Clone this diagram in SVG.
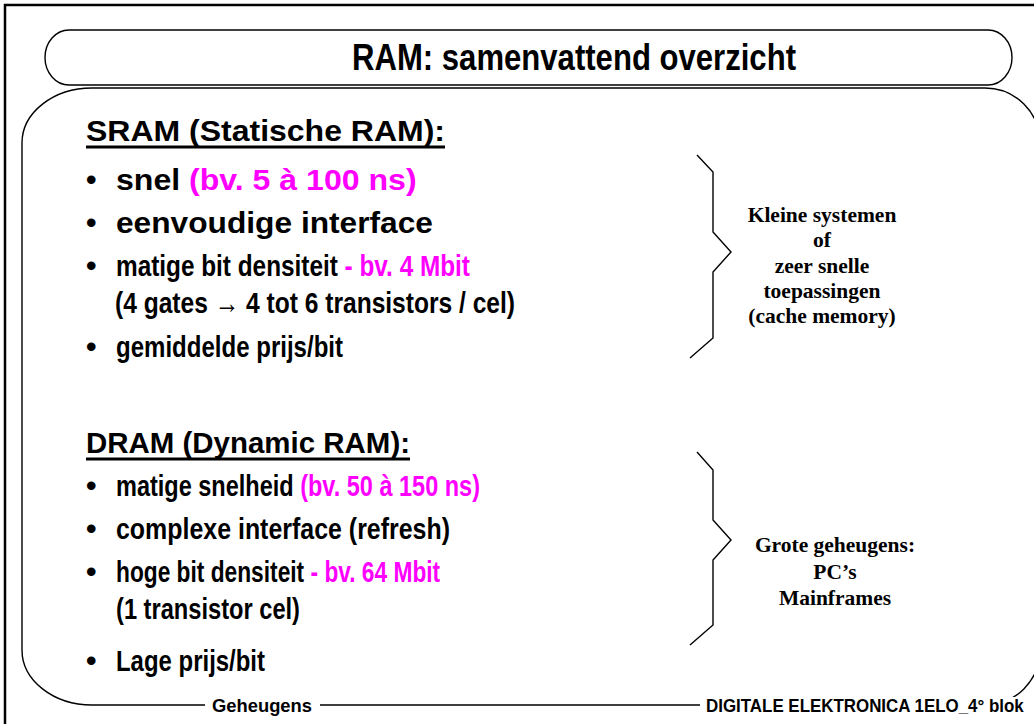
<svg xmlns="http://www.w3.org/2000/svg" width="1034" height="724" viewBox="0 0 1034 724">
  <style>
    .frame { fill: none; stroke: #000; stroke-width: 2.5; }
    .box { fill: none; stroke: #000; stroke-width: 1.4; }
    .brace { fill: none; stroke: #000; stroke-width: 1.4; stroke-linejoin: miter; }
    .txt { font-family: "Liberation Sans", Arial, sans-serif; font-weight: bold; font-size: 30px; fill: #000; }
    .hl { fill: #FF00FF; }
    .title { font-family: "Liberation Sans", Arial, sans-serif; font-weight: bold; font-size: 36px; fill: #000; }
    .note { font-family: "Liberation Serif", "Times New Roman", serif; font-weight: bold; font-size: 21.5px; fill: #000; text-anchor: middle; }
    .foot { font-family: "Liberation Sans", Arial, sans-serif; font-weight: bold; font-size: 18px; fill: #000; }
    .uline { stroke: #000; stroke-width: 3; }
  </style>

  <rect width="1034" height="724" fill="#fff"/>

  <!-- page frame: top and left edges -->
  <path class="frame" d="M5,724 V5 H1034"/>

  <!-- title banner -->
  <g id="title">
    <rect class="box" x="45" y="30" width="967" height="55" rx="24" ry="27.5" fill="#fff"/>
    <text class="title" x="352" y="70" textLength="444" lengthAdjust="spacingAndGlyphs">RAM: samenvattend overzicht</text>
  </g>

  <!-- content panel, footer labels break its bottom edge -->
  <g id="panel">
    <path class="box" d="M92,88 H985 A55,55 0 0 1 1040,143 V650 A55,55 0 0 1 985,705 H92 A70,55 0 0 1 22,650 V143 A70,55 0 0 1 92,88 Z"/>
    <rect x="205" y="695" width="115" height="29" fill="#fff"/>
    <rect x="700" y="697" width="334" height="27" fill="#fff"/>
  </g>

  <!-- SRAM section -->
  <g id="sram">
    <text class="txt" x="86" y="141" textLength="359" lengthAdjust="spacingAndGlyphs">SRAM (Statische RAM):</text>
    <line class="uline" x1="86" y1="147" x2="445" y2="147"/>
    <text class="txt" x="86" y="190">•</text>
    <g transform="matrix(1.069 0 0 1 -8 0)">
      <text class="txt" x="116" y="190">snel <tspan class="hl">(bv. 5 à 100 ns)</tspan></text>
    </g>
    <text class="txt" x="86" y="233">•</text>
    <text class="txt" x="116" y="233" textLength="317" lengthAdjust="spacingAndGlyphs">eenvoudige interface</text>
    <text class="txt" x="86" y="276">•</text>
    <g transform="matrix(0.812 0 0 1 21.8 0)">
      <text class="txt" x="116" y="276">matige bit densiteit <tspan class="hl">- bv. 4 Mbit</tspan></text>
    </g>
    <text class="txt" x="115" y="313" textLength="400" lengthAdjust="spacingAndGlyphs">(4 gates → 4 tot 6 transistors / cel)</text>
    <text class="txt" x="86" y="357">•</text>
    <text class="txt" x="116" y="357" textLength="227" lengthAdjust="spacingAndGlyphs">gemiddelde prijs/bit</text>
  </g>

  <!-- DRAM section -->
  <g id="dram">
    <text class="txt" x="86" y="453" textLength="324" lengthAdjust="spacingAndGlyphs">DRAM (Dynamic RAM):</text>
    <line class="uline" x1="86" y1="459" x2="410" y2="459"/>
    <text class="txt" x="86" y="496">•</text>
    <g transform="matrix(0.784 0 0 1 25.06 0)">
      <text class="txt" x="116" y="496">matige snelheid <tspan class="hl">(bv. 50 à 150 ns)</tspan></text>
    </g>
    <text class="txt" x="86" y="539">•</text>
    <text class="txt" x="116" y="539" textLength="334" lengthAdjust="spacingAndGlyphs">complexe interface (refresh)</text>
    <text class="txt" x="86" y="582">•</text>
    <g transform="matrix(0.758 0 0 1 28.07 0)">
      <text class="txt" x="116" y="582">hoge bit densiteit <tspan class="hl">- bv. 64 Mbit</tspan></text>
    </g>
    <text class="txt" x="116" y="619" textLength="184" lengthAdjust="spacingAndGlyphs">(1 transistor cel)</text>
    <text class="txt" x="86" y="671">•</text>
    <text class="txt" x="116" y="671" textLength="149" lengthAdjust="spacingAndGlyphs">Lage prijs/bit</text>
  </g>

  <!-- side braces -->
  <g id="connectors">
    <path class="brace" d="M697,155 L713,172 L713,232 L731,252 L713,272 L713,338 L690,358"/>
    <path class="brace" d="M697,452 L713,470 L713,520 L731,540 L713,560 L713,625 L690,645"/>
  </g>

  <g id="sram-use">
    <text class="note" x="822" y="222">Kleine systemen</text>
    <text class="note" x="822" y="247">of</text>
    <text class="note" x="822" y="273">zeer snelle</text>
    <text class="note" x="822" y="298">toepassingen</text>
    <text class="note" x="822" y="323">(cache memory)</text>
  </g>

  <g id="dram-use">
    <text class="note" x="835" y="552">Grote geheugens:</text>
    <text class="note" x="835" y="579">PC’s</text>
    <text class="note" x="835" y="605">Mainframes</text>
  </g>

  <!-- footer -->
  <g id="footer">
    <text class="foot" x="212" y="712" textLength="100" lengthAdjust="spacingAndGlyphs">Geheugens</text>
    <g transform="matrix(0.94 0 0 1 42.4 0)">
      <text class="foot" x="706" y="712">DIGITALE ELEKTRONICA 1ELO_4° blok</text>
    </g>
  </g>
</svg>
